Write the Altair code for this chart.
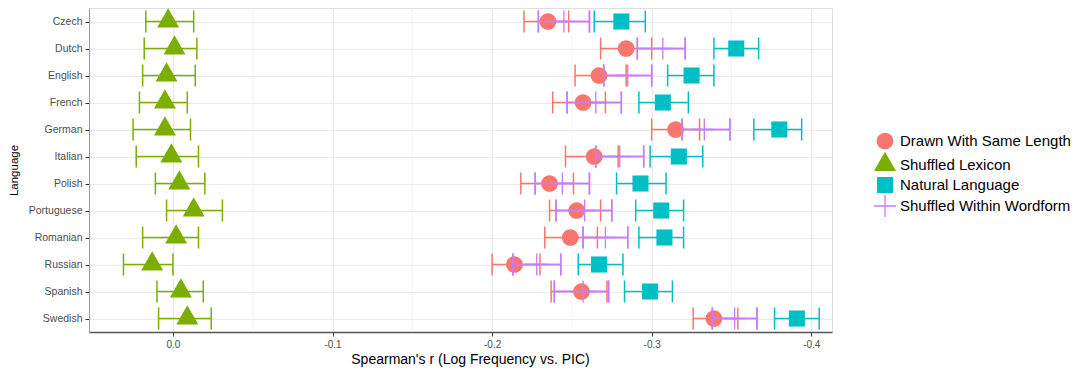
import altair as alt
import pandas as pd

languages = ["Czech", "Dutch", "English", "French", "German", "Italian", "Polish",
             "Portuguese", "Romanian", "Russian", "Spanish", "Swedish"]

groups = ["Drawn With Same Length", "Shuffled Lexicon", "Natural Language", "Shuffled Within Wordform"]
colors = ["#F8766D", "#7CAE00", "#00BFC4", "#C77CFF"]
shapes = [
    "M-0.76,0A0.76,0.76 0 1,0 0.76,0A0.76,0.76 0 1,0 -0.76,0Z",
    "M0,-1.21L1,0.55L-1,0.55Z",
    "M-0.73,-0.73H0.73V0.73H-0.73Z",
    "M-1,-0.06H1V0.06H-1ZM-0.06,-1H0.06V1H-0.06Z",
]

# Drawn With Same Length
same_mid = [-0.235, -0.284, -0.267, -0.257, -0.315, -0.264, -0.236, -0.253, -0.249, -0.214, -0.256, -0.339]
same_lo = [-0.220, -0.268, -0.252, -0.238, -0.300, -0.246, -0.218, -0.236, -0.233, -0.200, -0.237, -0.326]
same_hi = [-0.248, -0.300, -0.284, -0.271, -0.330, -0.279, -0.251, -0.268, -0.266, -0.230, -0.272, -0.354]

# Shuffled Lexicon
lex_mid = [0.003, -0.001, 0.004, 0.005, 0.005, 0.001, -0.004, -0.013, -0.002, 0.013, -0.005, -0.009]
lex_lo = [0.017, 0.018, 0.019, 0.021, 0.025, 0.023, 0.011, 0.004, 0.019, 0.031, 0.010, 0.009]
lex_hi = [-0.013, -0.015, -0.014, -0.009, -0.011, -0.016, -0.020, -0.031, -0.016, 0.000, -0.019, -0.024]

# Natural Language
nat_mid = [-0.281, -0.353, -0.325, -0.307, -0.380, -0.317, -0.293, -0.306, -0.308, -0.267, -0.299, -0.391]
nat_lo = [-0.264, -0.339, -0.310, -0.292, -0.364, -0.299, -0.278, -0.290, -0.292, -0.254, -0.283, -0.377]
nat_hi = [-0.296, -0.367, -0.339, -0.323, -0.394, -0.332, -0.309, -0.320, -0.320, -0.282, -0.313, -0.405]

# Shuffled Within Wordform
wf_mid = [-0.245, -0.307, -0.285, -0.265, -0.333, -0.280, -0.244, -0.258, -0.271, -0.228, -0.257, -0.352]
wf_lo = [-0.229, -0.291, -0.270, -0.247, -0.319, -0.265, -0.227, -0.240, -0.257, -0.213, -0.239, -0.338]
wf_hi = [-0.261, -0.321, -0.300, -0.281, -0.349, -0.295, -0.261, -0.275, -0.285, -0.243, -0.273, -0.366]

major_ticks = [0.0, -0.1, -0.2, -0.3, -0.4]
minor_ticks = [0.05, -0.05, -0.15, -0.25, -0.35]

series = [(same_mid, same_lo, same_hi), (lex_mid, lex_lo, lex_hi),
          (nat_mid, nat_lo, nat_hi), (wf_mid, wf_lo, wf_hi)]
rows = []
for g, (mid, lo, hi) in zip(groups, series):
    for lang, m, l, h in zip(languages, mid, lo, hi):
        rows.append({"group": g, "lang": lang, "mid": m, "lo": l, "hi": h})
df = pd.DataFrame(rows)

FONT = "Liberation Sans"
XT = "Spearman's r (Log Frequency vs. PIC)"
XS = alt.Scale(domain=[-0.413, 0.0526], reverse=True, nice=False, zero=False)
YS = alt.Scale(type="point", domain=languages, padding=0.5)
# error-bar colour scale (listed in reverse so it is kept apart from the legend scale)
BAR_CS = alt.Scale(domain=groups[::-1], range=colors[::-1])

AX = alt.Axis(values=major_ticks,
              labelExpr="replace(format(datum.value, '.1f'), '\u2212', '-')",
              grid=True, gridColor="#EBEBEB", gridWidth=1.2,
              tickSize=4, tickColor="#333333", labelFontSize=10, labelColor="#4D4D4D",
              labelPadding=3, labelFont=FONT, domainColor="#555555", domainWidth=1.5,
              titleFont=FONT, titleFontSize=14, titleColor="black", titleFontWeight="normal",
              titleX=381, titleY=31, titleBaseline="alphabetic", titleAlign="center")
AY = alt.Axis(grid=True, gridColor="#EBEBEB", gridWidth=1.2,
              tickSize=4, tickColor="#333333", labelFontSize=10.5, labelColor="#4D4D4D",
              labelPadding=3, labelFont=FONT, domainColor="#999999", domainWidth=1,
              titleFont=FONT, titleFontSize=11.5, titleColor="black", titleFontWeight="normal",
              titleAngle=270, titleX=-72, titleY=162, titleBaseline="alphabetic",
              titleAlign="center")

LEG = alt.Legend(orient="none", legendX=785, legendY=122, labelFontSize=15,
                 labelColor="black", labelFont=FONT, labelOffset=4, rowPadding=1,
                 symbolSize=484, labelLimit=300, padding=0, symbolStrokeWidth=0)

y_enc = alt.Y("lang:N", scale=YS, axis=AY, title="Language", sort=languages)

minor = alt.Chart(pd.DataFrame({"g": minor_ticks})).mark_rule(
    color="#F0F0F0", strokeWidth=0.8
).encode(x=alt.X("g:Q", scale=XS, axis=AX, title=XT))

bars = alt.Chart(df).mark_rule(strokeWidth=1.5).encode(
    x=alt.X("lo:Q", scale=XS, axis=AX, title=XT), x2="hi:Q", y=y_enc,
    color=alt.Color("group:N", scale=BAR_CS, legend=None))

caps = alt.Chart(df).transform_fold(["lo", "hi"], as_=["end", "val"]).mark_tick(
    thickness=1.5, size=22, opacity=1
).encode(x=alt.X("val:Q", scale=XS, axis=AX, title=XT), y=y_enc,
         color=alt.Color("group:N", scale=BAR_CS, legend=None))

pts = alt.Chart(df).mark_point(filled=True, opacity=1, size=484, strokeWidth=0).encode(
    x=alt.X("mid:Q", scale=XS, axis=AX, title=XT),
    y=y_enc,
    fill=alt.Fill("group:N", scale=alt.Scale(domain=groups, range=colors), legend=LEG, title=None),
    shape=alt.Shape("group:N", scale=alt.Scale(domain=groups, range=shapes), legend=LEG, title=None),
)

is_wf = alt.datum.group == groups[3]
bars_wf = bars.transform_filter(is_wf)
caps_wf = caps.transform_filter(is_wf)

chart = alt.layer(minor, bars, caps, pts, bars_wf, caps_wf).properties(
    width=743, height=324,
    autosize=alt.AutoSizeParams(type="none"),
    padding={"left": 81, "top": 0, "right": 240, "bottom": 38},
).configure_view(stroke="#999999", strokeWidth=1).configure(background="white")

chart.save("out.html", embed_options={"renderer": "svg", "actions": False})
